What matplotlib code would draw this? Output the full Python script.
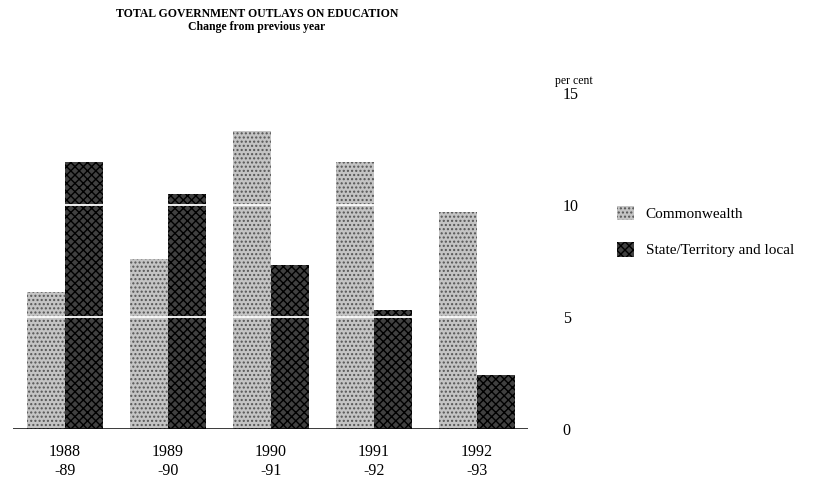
import matplotlib
matplotlib.use('Agg')
import matplotlib.pyplot as plt
import numpy as np

plt.rcParams['font.family'] = 'Liberation Serif'
plt.rcParams['hatch.linewidth'] = 1.0

years = ['1988\n-89', '1989\n-90', '1990\n-91', '1991\n-92', '1992\n-93']
commonwealth = [6.1, 7.6, 13.3, 11.9, 9.7]
state_local = [11.9, 10.5, 7.3, 5.3, 2.4]

fig = plt.figure(figsize=(8.27, 4.78), dpi=100)
ax = fig.add_axes([13 / 827, 49 / 478, 515 / 827, 336 / 478])

x = np.arange(len(years))
w = 0.37
ax.bar(x - w / 2, commonwealth, w, color='#c4c4c4', edgecolor='#555555',
       hatch='....', linewidth=0, label='Commonwealth', zorder=2)
ax.bar(x + w / 2, state_local, w, color='#404040', edgecolor='#000000',
       hatch='xxxx', linewidth=0, label='State/Territory and local', zorder=2)

# white grid lines cut through the bars
for yv in [5, 10]:
    ax.axhline(yv, color='white', lw=1.3, zorder=3)
ax.axhline(0, color='black', lw=1.8, zorder=4)

ax.set_xlim(-0.505, 4.495)
ax.set_ylim(0, 15)
ax.set_xticks(x)
ax.set_xticklabels(years, fontsize=11.5, linespacing=1.25)
ax.tick_params(axis='x', length=0, pad=11)
ax.yaxis.tick_right()
ax.set_yticks([0, 5, 10, 15])
ax.tick_params(axis='y', length=0, pad=25, labelsize=11.5)
for s in ax.spines.values():
    s.set_visible(False)

fig.text(555 / 827, 1 - 81 / 478, 'per cent', fontsize=8.5, ha='left', va='center')

fig.text(257 / 827, 1 - 14 / 478, 'TOTAL GOVERNMENT OUTLAYS ON EDUCATION',
         fontsize=8.5, fontweight='bold', ha='center', va='center')
fig.text(257 / 827, 1 - 27 / 478, 'Change from previous year',
         fontsize=8.5, fontweight='bold', ha='center', va='center')

fig.legend(loc='upper left', bbox_to_anchor=(603 / 827, 1 - 192 / 478),
           frameon=False, fontsize=11, handlelength=1.1, handleheight=1.1,
           handletextpad=0.8, labelspacing=1.35)

fig.savefig('out.png', dpi=100)
